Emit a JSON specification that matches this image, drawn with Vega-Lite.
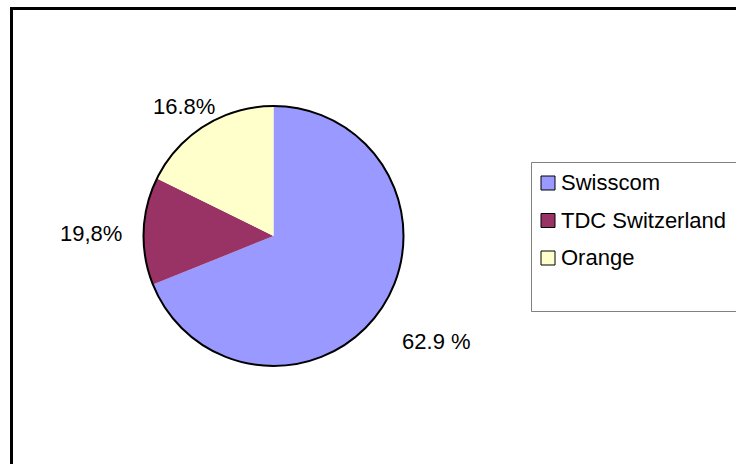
{
  "$schema": "https://vega.github.io/schema/vega-lite/v6.json",
  "width": 740,
  "height": 470,
  "autosize": "none",
  "padding": {"left": 11.5, "top": 8.5, "right": 0, "bottom": 0},
  "background": "white",
  "config": {
    "view": {"stroke": null},
    "font": "Liberation Sans"
  },
  "data": {
    "values": [
      {"category": "Swisscom", "share": 68.9, "rank": 1, "label": "62.9 %"},
      {"category": "TDC Switzerland", "share": 13.4, "rank": 2, "label": "19,8%"},
      {"category": "Orange", "share": 17.7, "rank": 3, "label": "16.8%"}
    ]
  },
  "layer": [
    {
      "transform": [{"aggregate": [{"op": "count", "as": "n"}]}],
      "mark": {"type": "rect", "filled": false, "stroke": "black", "strokeWidth": 3},
      "encoding": {}
    },
    {
      "mark": {"type": "arc", "radius": 130, "x": 262, "y": 227.5},
      "encoding": {
        "theta": {"field": "share", "type": "quantitative", "stack": true},
        "order": {"field": "rank", "type": "quantitative"},
        "color": {
          "field": "category",
          "type": "nominal",
          "scale": {
            "domain": ["Swisscom", "TDC Switzerland", "Orange"],
            "range": ["#9999FF", "#993366", "#FFFFCC"]
          },
          "legend": {
            "orient": "none",
            "legendX": 519.5,
            "legendY": 153.5,
            "title": " ",
            "titleOrient": "bottom",
            "titleFontSize": 22,
            "titlePadding": 11,
            "strokeColor": "#808080",
            "fillColor": "white",
            "padding": 10,
            "symbolType": "square",
            "symbolSize": 196,
            "symbolOffset": -4,
            "symbolStrokeColor": "black",
            "symbolStrokeWidth": 1,
            "symbolOpacity": 1,
            "labelFontSize": 22,
            "labelColor": "black",
            "labelFont": "Liberation Sans",
            "labelOffset": 2,
            "rowPadding": 15.5,
            "labelLimit": 0
          }
        }
      }
    },
    {
      "transform": [{"aggregate": [{"op": "sum", "field": "share", "as": "total"}]}],
      "mark": {"type": "arc", "radius": 130, "x": 262, "y": 227.5, "filled": false, "stroke": "black", "strokeWidth": 2},
      "encoding": {
        "theta": {"field": "total", "type": "quantitative"}
      }
    },
    {
      "mark": {"type": "text", "radius": 194, "x": 262, "y": 227.5, "dx": 2, "dy": -3, "fontSize": 22, "font": "Liberation Sans", "fill": "black", "align": "center", "baseline": "middle"},
      "encoding": {
        "theta": {"field": "share", "type": "quantitative", "stack": true},
        "order": {"field": "rank", "type": "quantitative"},
        "detail": {"field": "category", "type": "nominal"},
        "text": {"condition": {"test": "datum.category === 'Swisscom'", "field": "label"}, "value": ""}
      }
    },
    {
      "mark": {"type": "text", "radius": 182.5, "x": 262, "y": 227.5, "dy": 5, "fontSize": 22, "font": "Liberation Sans", "fill": "black", "align": "center", "baseline": "middle"},
      "encoding": {
        "theta": {"field": "share", "type": "quantitative", "stack": true},
        "order": {"field": "rank", "type": "quantitative"},
        "detail": {"field": "category", "type": "nominal"},
        "text": {"condition": {"test": "datum.category === 'TDC Switzerland'", "field": "label"}, "value": ""}
      }
    },
    {
      "mark": {"type": "text", "radius": 158, "x": 262, "y": 227.5, "dx": -6, "dy": 5, "fontSize": 22, "font": "Liberation Sans", "fill": "black", "align": "center", "baseline": "middle"},
      "encoding": {
        "theta": {"field": "share", "type": "quantitative", "stack": true},
        "order": {"field": "rank", "type": "quantitative"},
        "detail": {"field": "category", "type": "nominal"},
        "text": {"condition": {"test": "datum.category === 'Orange'", "field": "label"}, "value": ""}
      }
    }
  ]
}
